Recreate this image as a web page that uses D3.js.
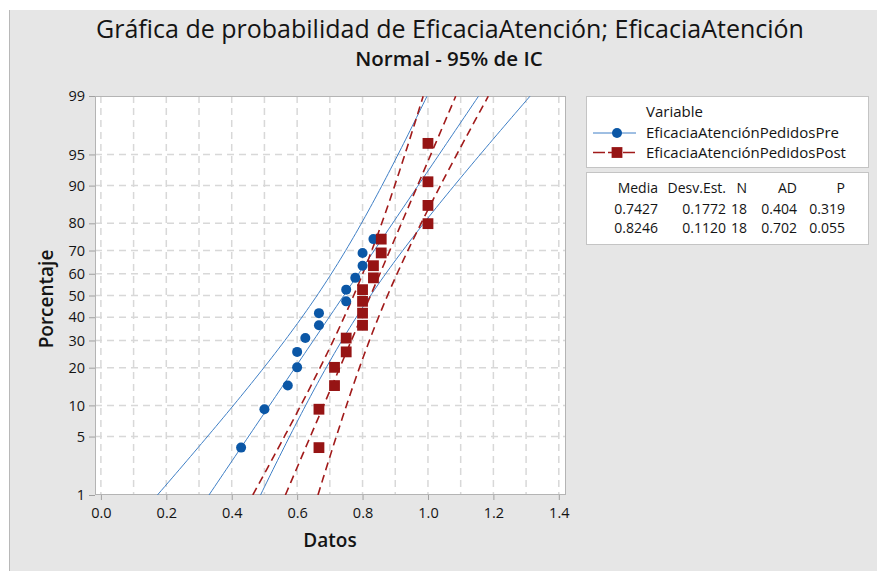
<!DOCTYPE html>
<html>
<head>
<meta charset="utf-8">
<script src="https://cdn.jsdelivr.net/npm/d3@7"></script>
<style>
  body { margin: 0; background: #ffffff; }
  svg text { font-family: "Open Sans", "Noto Sans", sans-serif; fill: #141414; }
</style>
</head>
<body>
<div id="chart"></div>
<script>
// data (sorted values of each sample)
var preValues  = [0.4286, 0.5, 0.5714, 0.6, 0.6, 0.625, 0.6667, 0.6667, 0.75, 0.75, 0.7778, 0.8, 0.8, 0.8333, 1, 1, 1, 1];
var postValues = [0.6667, 0.6667, 0.7143, 0.7143, 0.75, 0.75, 0.8, 0.8, 0.8, 0.8, 0.8333, 0.8333, 0.8571, 0.8571, 1, 1, 1, 1];
var seriesNames = ["EficaciaAtenciónPedidosPre", "EficaciaAtenciónPedidosPost"];
var means = [0.7427, 0.8246];
var sds = [0.1772, 0.1120];
var counts = [18, 18];
var adValues = ["0.404", "0.702"];
var pValues = ["0.319", "0.055"];
var statHeaders = ["Media", "Desv.Est.", "N", "AD", "P"];
var yTicks = [1, 5, 10, 20, 30, 40, 50, 60, 70, 80, 90, 95, 99];
var xTicks = [0, 0.2, 0.4, 0.6, 0.8, 1.0, 1.2, 1.4];
var xGrid = [0, 0.1, 0.2, 0.3, 0.4, 0.5, 0.6, 0.7, 0.8, 0.9, 1.0, 1.1, 1.2, 1.3, 1.4];

var W = 877, H = 571;
var plot = { left: 95, right: 566, top: 96, bottom: 495 };
var blue = "#0b57a6", blueLine = "#3f7fc6", red = "#961414", redLine = "#a11a1a";

// inverse normal cdf (Acklam)
function qnorm(p) {
  var a=[-3.969683028665376e+01,2.209460984245205e+02,-2.759285104469687e+02,1.383577518672690e+02,-3.066479806614716e+01,2.506628277459239e+00];
  var b=[-5.447609879822406e+01,1.615858368580409e+02,-1.556989798598866e+02,6.680131188771972e+01,-1.328068155288572e+01];
  var c=[-7.784894002430293e-03,-3.223964580411365e-01,-2.400758277161838e+00,-2.549732539343734e+00,4.374664141464968e+00,2.938163982698783e+00];
  var d=[7.784695709041462e-03,3.224671290700398e-01,2.445134137142996e+00,3.754408661907416e+00];
  var pl = 0.02425, q, r;
  if (p < pl) { q = Math.sqrt(-2*Math.log(p)); return (((((c[0]*q+c[1])*q+c[2])*q+c[3])*q+c[4])*q+c[5])/((((d[0]*q+d[1])*q+d[2])*q+d[3])*q+1); }
  if (p > 1-pl) { q = Math.sqrt(-2*Math.log(1-p)); return -(((((c[0]*q+c[1])*q+c[2])*q+c[3])*q+c[4])*q+c[5])/((((d[0]*q+d[1])*q+d[2])*q+d[3])*q+1); }
  q = p-0.5; r = q*q;
  return (((((a[0]*r+a[1])*r+a[2])*r+a[3])*r+a[4])*r+a[5])*q/(((((b[0]*r+b[1])*r+b[2])*r+b[3])*r+b[4])*r+1);
}

var svg = d3.select("#chart").append("svg")
  .attr("width", W).attr("height", H);

// gray background with thin left edge
svg.append("rect").attr("x", 9).attr("y", 10).attr("width", W-9).attr("height", H-10).attr("fill", "#e6e6e6");
svg.append("line").attr("x1", 9.5).attr("x2", 9.5).attr("y1", 10).attr("y2", H).attr("stroke", "#b8b8b8");

var x = d3.scaleLinear().domain([-0.018, 1.422]).range([plot.left, plot.right]);
var y = d3.scaleLinear().domain([qnorm(0.01), qnorm(0.99)]).range([plot.bottom, plot.top]);

svg.append("rect")
  .attr("x", plot.left).attr("y", plot.top)
  .attr("width", plot.right-plot.left).attr("height", plot.bottom-plot.top)
  .attr("fill", "#ffffff");

// grid
var grid = svg.append("g").attr("stroke", "#d8d8d8").attr("stroke-width", 1.5).attr("stroke-dasharray", "7,5");
grid.selectAll(".vg").data(xGrid).enter().append("line")
  .attr("x1", function(d){ return x(d); }).attr("x2", function(d){ return x(d); })
  .attr("y1", plot.top).attr("y2", plot.bottom);
grid.selectAll(".hg").data(yTicks.slice(1, -1)).enter().append("line")
  .attr("y1", function(d){ return y(qnorm(d/100)); }).attr("y2", function(d){ return y(qnorm(d/100)); })
  .attr("x1", plot.left).attr("x2", plot.right);

// axes
var xAxis = d3.axisBottom(x).tickValues(xTicks).tickFormat(d3.format(".1f")).tickSize(5);
var yAxis = d3.axisLeft(y).tickValues(yTicks.map(function(d){ return qnorm(d/100); }))
  .tickFormat(function(d, i){ return yTicks[i]; }).tickSize(6);

var gx = svg.append("g").attr("transform", "translate(0," + plot.bottom + ")").call(xAxis);
var gy = svg.append("g").attr("transform", "translate(" + plot.left + ",0)").call(yAxis);
[gx, gy].forEach(function(g){
  g.select(".domain").remove();
  g.selectAll(".tick line").attr("stroke", "#a0a0a0");
  g.selectAll(".tick text").style("font-size", "14.5px").attr("fill", "#141414");
});
gx.selectAll(".tick text").attr("dy", "1.0em");
gy.selectAll(".tick text").attr("dx", "-1px");

// plot border
svg.append("rect")
  .attr("x", plot.left+0.5).attr("y", plot.top+0.5)
  .attr("width", plot.right-plot.left-1).attr("height", plot.bottom-plot.top-1)
  .attr("fill", "none").attr("stroke", "#b4b4b4");

// fitted lines and 95% bands
var clip = svg.append("clipPath").attr("id", "clipPlot").append("rect")
  .attr("x", plot.left).attr("y", plot.top)
  .attr("width", plot.right-plot.left).attr("height", plot.bottom-plot.top);
var zs = d3.range(qnorm(0.01), qnorm(0.99) + 0.01, 0.05);
var lineGen = d3.line().x(function(d){ return x(d[0]); }).y(function(d){ return y(d[1]); });
var lines = svg.append("g").attr("clip-path", "url(#clipPlot)");

function drawFit(k, color, width, dash) {
  var m = means[k], s = sds[k], n = counts[k];
  [-1, 0, 1].forEach(function(side){
    var pts = zs.map(function(z){
      var half = 1.96 * s * Math.sqrt(1/n + z*z/(2*n));
      return [m + s*z + side*half, z];
    });
    lines.append("path")
      .attr("d", lineGen(pts))
      .attr("fill", "none")
      .attr("stroke", color)
      .attr("stroke-width", width)
      .attr("stroke-dasharray", dash);
  });
}
drawFit(0, blueLine, 1, null);
drawFit(1, redLine, 1.6, "8,5");

// plotting positions (median ranks)
function ranks(vals) {
  var n = vals.length;
  return vals.map(function(v, i){ return { v: v, z: qnorm((i + 1 - 0.3)/(n + 0.4)) }; });
}

svg.append("g").selectAll("circle")
  .data(ranks(preValues)).enter().append("circle")
  .attr("cx", function(d){ return x(d.v); })
  .attr("cy", function(d){ return y(d.z); })
  .attr("r", 5)
  .attr("fill", blue);

svg.append("g").selectAll("rect")
  .data(ranks(postValues)).enter().append("rect")
  .attr("x", function(d){ return x(d.v) - 5.4; })
  .attr("y", function(d){ return y(d.z) - 5.4; })
  .attr("width", 10.8).attr("height", 10.8)
  .attr("fill", red);

// titles
svg.append("text").attr("x", 450).attr("y", 38).attr("text-anchor", "middle")
  .style("font-size", "25px")
  .text("Gráfica de probabilidad de EficaciaAtención; EficaciaAtención");
svg.append("text").attr("x", 449).attr("y", 66).attr("text-anchor", "middle")
  .style("font-size", "20.5px").style("font-weight", "600")
  .text("Normal - 95% de IC");

// axis titles
svg.append("text").attr("x", 330).attr("y", 547).attr("text-anchor", "middle")
  .style("font-size", "19px").style("font-weight", "600")
  .text("Datos");
svg.append("text").attr("transform", "translate(53,299) rotate(-90)").attr("text-anchor", "middle")
  .style("font-size", "19px").style("font-weight", "600")
  .text("Porcentaje");

// legend
var legend = svg.append("g");
legend.append("rect").attr("x", 586.5).attr("y", 96.5).attr("width", 282).attr("height", 71)
  .attr("fill", "#ffffff").attr("stroke", "#c4c4c4");
legend.append("text").attr("x", 646).attr("y", 117).style("font-size", "15px").text("Variable");
seriesNames.forEach(function(name, i){
  var ly = 133 + i*19.5;
  legend.append("line").attr("x1", 593).attr("x2", 636).attr("y1", ly).attr("y2", ly)
    .attr("stroke", i == 0 ? blueLine : redLine)
    .attr("stroke-width", i == 0 ? 1 : 1.6)
    .attr("stroke-dasharray", i == 0 ? null : "12,3");
  if (i == 0) {
    legend.append("circle").attr("cx", 617).attr("cy", ly).attr("r", 5).attr("fill", blue);
  } else {
    legend.append("rect").attr("x", 617-5.4).attr("y", ly-5.4).attr("width", 10.8).attr("height", 10.8).attr("fill", red);
  }
  legend.append("text").attr("x", 646).attr("y", ly + 5).style("font-size", "15px").text(name);
});

// stats table
var table = svg.append("g");
table.append("rect").attr("x", 586.5).attr("y", 172.5).attr("width", 282).attr("height", 72)
  .attr("fill", "#ffffff").attr("stroke", "#c4c4c4");
var colRight = [658, 726, 747, 797, 845];
statHeaders.forEach(function(h, j){
  table.append("text").attr("x", colRight[j]).attr("y", 193).attr("text-anchor", "end")
    .style("font-size", "14px").text(h);
});
means.forEach(function(m, i){
  var row = [m.toFixed(4), sds[i].toFixed(4), counts[i], adValues[i], pValues[i]];
  row.forEach(function(v, j){
    table.append("text").attr("x", colRight[j]).attr("y", 214 + i*18.5).attr("text-anchor", "end")
      .style("font-size", "14px").text(v);
  });
});
</script>
</body>
</html>
